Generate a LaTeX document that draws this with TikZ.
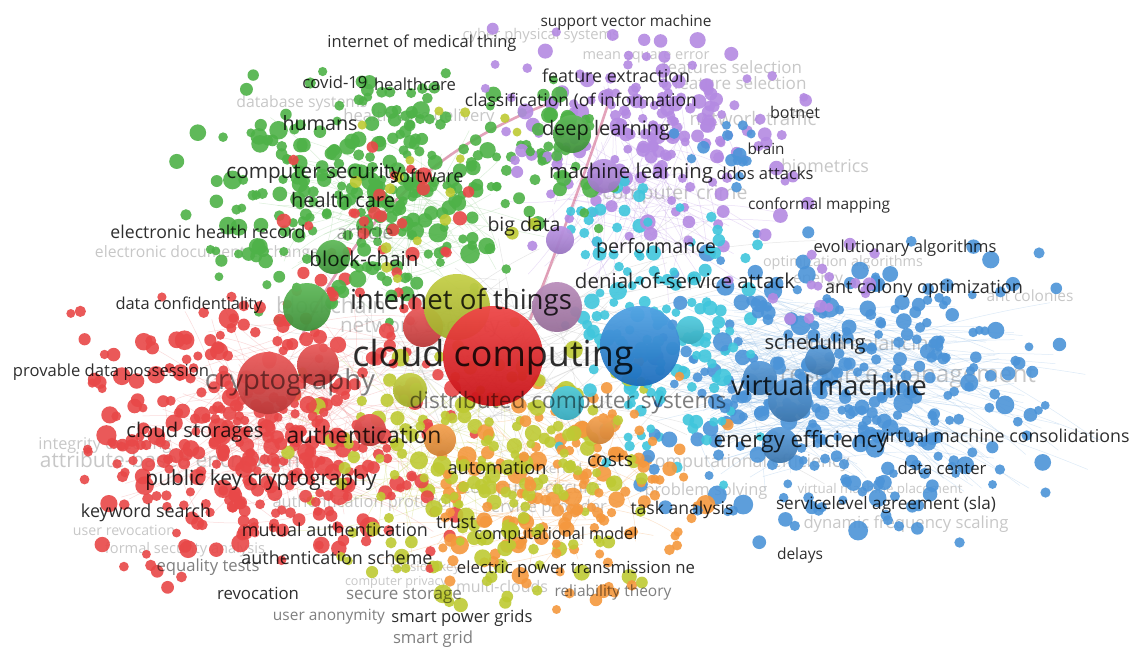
\documentclass[tikz,border=0pt]{standalone}
\usepackage{fontspec}
\setmainfont{Open Sans}
\usepackage{graphicx}
\definecolor{cred}{RGB}{232,72,72}
\definecolor{cgreen}{RGB}{78,178,72}
\definecolor{cpurple}{RGB}{180,138,226}
\definecolor{cblue}{RGB}{76,148,216}
\definecolor{ccyan}{RGB}{64,198,220}
\definecolor{cyellow}{RGB}{190,202,52}
\definecolor{corange}{RGB}{244,152,62}
\definecolor{cmauve}{RGB}{178,130,180}
\newcommand\scat[7]{\foreach \i in {1,...,#2}{%
  \pgfmathsetmacro\px{#3+#5*(rand+rand)/2}%
  \pgfmathsetmacro\py{#4+#6*(rand+rand)/2}%
  \pgfmathsetmacro\rr{4.4+#7*rnd*rnd}%
  \fill[#1,dot] (\px,\py) circle[radius=\rr];}}
\newcommand\edg[9]{\foreach \i in {1,...,#2}{%
  \pgfmathsetmacro\ax{#3+#5*(rand+rand)/2}%
  \pgfmathsetmacro\ay{#4+#6*(rand+rand)/2}%
  \pgfmathsetmacro\bx{#7+#9*(rand+rand)/2}%
  \pgfmathsetmacro\by{#8+0.6*#9*(rand+rand)/2}%
  \draw[#1,edgeline] (\ax,\ay) to[bend left=12] (\bx,\by);}}
\newcommand\lbl[6]{\node[#1] (#2) at (#3,#4) {\resizebox{#5pt}{!}{#6}};}
\tikzset{
  dot/.style={fill opacity=0.9},
  edgeline/.style={line width=0.5pt, draw opacity=0.28},
  lab/.style={inner sep=0pt, text=black, text opacity=0.82},
  midlab/.style={inner sep=0pt, text=black, text opacity=0.5},
  artlab/.style={inner sep=0pt, text=black, text opacity=0.33},
  faintlab/.style={inner sep=0pt, text=black, text opacity=0.22},
  bigball/.style={fill opacity=0.95},
  pinkcurve/.style={line width=2.6pt, draw=cred!55!cpurple, draw opacity=0.6},
}
\begin{document}
\begin{tikzpicture}[x=1pt,y=-1pt]
\useasboundingbox (0,0) rectangle (1137,648);
\fill[white] (0,0) rectangle (1137,648);
\pgfmathsetseed{4242}
% ---------- edges ----------
\edg{cred!70}{150}{290}{410}{170}{120}{300}{420}{200}
\edg{cblue!70}{170}{720}{380}{70}{110}{900}{400}{210}
\edg{cgreen!70}{70}{380}{210}{150}{100}{400}{240}{150}
\edg{cpurple}{70}{620}{160}{100}{90}{640}{230}{150}
\edg{gray!70}{100}{500}{360}{160}{110}{520}{360}{320}
\edg{corange}{60}{560}{470}{120}{90}{520}{480}{200}
\edg{cyellow}{50}{440}{460}{120}{100}{420}{450}{200}
\draw[pinkcurve] (300,340) .. controls (350,230) and (430,150) .. (545,105);
\draw[pinkcurve] (530,320) .. controls (560,240) and (590,160) .. (612,92);
% ---------- faint labels (behind the circles) ----------
\lbl{faintlab}{f1}{541}{36}{157}{cyber physical systems}
\lbl{faintlab}{f2}{646}{57}{127}{mean square error}
\lbl{faintlab}{f3}{732}{67}{140}{features selection}
\lbl{faintlab}{f4}{740}{83}{133}{feature selection}
\lbl{faintlab}{f5}{302}{103}{131}{database systems}
\lbl{faintlab}{f6}{419}{117}{151}{health care delivery}
\lbl{faintlab}{f7}{753}{118}{127}{network traffic}
\lbl{faintlab}{f8}{825}{166}{88}{biometrics}
\lbl{faintlab}{f9}{675}{195}{145}{computer crime}
\lbl{faintlab}{f10}{207}{253}{224}{electronic document exchange}
\lbl{faintlab}{f11}{843}{263}{160}{optimization algorithms}
\lbl{faintlab}{f12}{818}{281}{50}{energy}
\lbl{faintlab}{f13}{1030}{296}{87}{ant colonies}
\lbl{faintlab}{f14}{331}{305}{110}{blockchain}
\lbl{faintlab}{f15}{420}{327}{160}{network security}
\lbl{faintlab}{f16}{872}{345}{135}{load balancing}
\lbl{faintlab}{f17}{908}{377}{256}{resource management}
\lbl{faintlab}{f18}{105}{445}{133}{integrity checking}
\lbl{faintlab}{f19}{170}{462}{260}{attribute-based encryption}
\lbl{faintlab}{f20}{748}{463}{203}{computational efficiency}
\lbl{faintlab}{f21}{366}{503}{187}{authentication protocols}
\lbl{faintlab}{f22}{706}{491}{123}{problem solving}
\lbl{faintlab}{f23}{532}{489}{140}{computer circuits}
\lbl{faintlab}{f24}{545}{508}{124}{service provider}
\lbl{faintlab}{f25}{880}{490}{165}{virtual machine placement}
\lbl{faintlab}{f26}{906}{524}{205}{dynamic frequency scaling}
\lbl{faintlab}{f27}{562}{468}{40}{kernel}
\lbl{faintlab}{f28}{124}{530}{102}{user revocation}
\lbl{faintlab}{f29}{185}{550}{160}{formal security analysis}
\lbl{faintlab}{f30}{425}{568}{70}{session key}
\lbl{faintlab}{f31}{396}{582}{102}{computer privacy}
\lbl{faintlab}{f32}{502}{587}{92}{multi-clouds}
% ---------- circles, first pass ----------
\scat{cgreen}{150}{370}{195}{210}{150}{6}
\scat{cpurple}{95}{650}{140}{170}{120}{5}
\scat{cblue}{170}{850}{390}{230}{170}{6}
\scat{ccyan}{75}{665}{340}{110}{150}{5}
\scat{cred}{200}{265}{430}{215}{160}{6.5}
\scat{corange}{85}{570}{490}{160}{130}{5.5}
\scat{cyellow}{105}{480}{470}{200}{150}{6}
% ---------- circles, second pass ----------
\scat{cgreen}{130}{370}{190}{200}{140}{6}
\scat{cpurple}{80}{650}{140}{170}{120}{5}
\scat{cblue}{150}{850}{390}{230}{170}{6}
\scat{ccyan}{60}{665}{340}{110}{150}{5}
\scat{cred}{170}{265}{430}{215}{160}{6.5}
\scat{corange}{70}{570}{490}{160}{130}{5.5}
\scat{cyellow}{90}{480}{470}{200}{150}{6}
% ---------- mixing ----------
\scat{cred}{30}{390}{230}{150}{100}{4}
\scat{cpurple}{18}{800}{280}{90}{60}{3}
\scat{cyellow}{18}{420}{200}{150}{110}{3}
\scat{ccyan}{18}{610}{220}{60}{60}{3}
\scat{cgreen}{30}{565}{150}{70}{90}{5}
\scat{cblue}{14}{730}{150}{60}{50}{3}
% ---------- large circles ----------
\shade[top color=cgreen!90!white, bottom color=cgreen!80!black, bigball] (307,307) circle[radius=24];
\shade[top color=cgreen!90!white, bottom color=cgreen!80!black, bigball] (333,257) circle[radius=17];
\shade[top color=cgreen!90!white, bottom color=cgreen!80!black, bigball] (572,134) circle[radius=19];
\shade[top color=cpurple!90!white, bottom color=cpurple!85!black, bigball] (604,176) circle[radius=17];
\shade[top color=cpurple!90!white, bottom color=cpurple!85!black, bigball] (560,240) circle[radius=14];
\shade[top color=cred!90!white, bottom color=cred!80!black, bigball] (268,383) circle[radius=31];
\shade[top color=cred!90!white, bottom color=cred!80!black, bigball] (318,365) circle[radius=21];
\shade[top color=cred!90!white, bottom color=cred!80!black, bigball] (423,327) circle[radius=20];
\shade[top color=cred!90!white, bottom color=cred!80!black, bigball] (370,430) circle[radius=16];
\shade[top color=cyellow!90!white, bottom color=cyellow!85!black, bigball] (457,307) circle[radius=33];
\shade[top color=cyellow!90!white, bottom color=cyellow!85!black, bigball] (410,390) circle[radius=17];
\shade[top color=cmauve!90!white, bottom color=cmauve!85!black, bigball] (557,307) circle[radius=25];
\shade[top color=corange!90!white, bottom color=corange!85!black, bigball] (440,440) circle[radius=16];
\shade[top color=corange!90!white, bottom color=corange!85!black, bigball] (600,430) circle[radius=14];
\shade[top color=ccyan!90!white, bottom color=ccyan!85!black, bigball] (567,403) circle[radius=17];
\shade[top color=ccyan!90!white, bottom color=ccyan!85!black, bigball] (690,330) circle[radius=14];
\shade[top color=cblue!90!white, bottom color=cblue!80!black, bigball] (790,400) circle[radius=22];
\shade[top color=cblue!90!white, bottom color=cblue!80!black, bigball] (760,378) circle[radius=17];
\shade[top color=cblue!90!white, bottom color=cblue!80!black, bigball] (780,445) circle[radius=18];
\shade[top color=cblue!90!white, bottom color=cblue!80!black, bigball] (820,360) circle[radius=15];
\shade[top color={rgb,255:red,238;green,72;blue,72}, bottom color={rgb,255:red,200;green,18;blue,24}, bigball] (493,356) circle[radius=50];
\shade[top color={rgb,255:red,84;green,164;blue,228}, bottom color={rgb,255:red,28;green,108;blue,188}, bigball] (640,346) circle[radius=40];
% ---------- medium labels ----------
\lbl{midlab}{m1}{290}{382}{170}{cryptography}
\lbl{midlab}{m2}{568}{403}{317}{distributed computer systems}
\lbl{midlab}{m3}{208}{567}{103}{equality tests}
\lbl{midlab}{m4}{404}{596}{116}{secure storage}
\lbl{midlab}{m5}{613}{592}{117}{reliability theory}
\lbl{midlab}{m6}{329}{617}{112}{user anonymity}
\lbl{midlab}{m7}{433}{639}{80}{smart grid}
\lbl{artlab}{m8}{365}{232}{57}{article}
% ---------- dark labels ----------
\lbl{lab}{d1}{626}{22}{171}{support vector machine}
\lbl{lab}{d2}{422}{43}{189}{internet of medical thing}
\lbl{lab}{d3}{335}{82}{65}{covid-19}
\lbl{lab}{d4}{415}{84}{82}{healthcare}
\lbl{lab}{d5}{616}{76}{148}{feature extraction}
\lbl{lab}{d6}{581}{101}{232}{classification (of information}
\lbl{lab}{d7}{795}{112}{50}{botnet}
\lbl{lab}{d8}{320}{123}{75}{humans}
\lbl{lab}{d9}{606}{130}{128}{deep learning}
\lbl{lab}{d10}{766}{149}{37}{brain}
\lbl{lab}{d11}{631}{173}{164}{machine learning}
\lbl{lab}{d12}{765}{173}{97}{ddos attacks}
\lbl{lab}{d13}{314}{173}{175}{computer security}
\lbl{lab}{d14}{427}{176}{73}{software}
\lbl{lab}{d15}{343}{200}{104}{health care}
\lbl{lab}{d16}{819}{205}{142}{conformal mapping}
\lbl{lab}{d17}{208}{232}{195}{electronic health record}
\lbl{lab}{d18}{524}{226}{73}{big data}
\lbl{lab}{d19}{656}{248}{120}{performance}
\lbl{lab}{d20}{905}{248}{183}{evolutionary algorithms}
\lbl{lab}{d21}{364}{259}{109}{block-chain}
\lbl{lab}{d22}{685}{281}{220}{denial-of-service attack}
\lbl{lab}{d23}{924}{289}{198}{ant colony optimization}
\lbl{lab}{d24}{461}{302}{222}{internet of things}
\lbl{lab}{d25}{189}{305}{147}{data confidentiality}
\lbl{lab}{d26}{493}{357}{281}{cloud computing}
\lbl{lab}{d27}{815}{344}{101}{scheduling}
\lbl{lab}{d28}{111}{372}{196}{provable data possession}
\lbl{lab}{d29}{829}{385}{196}{virtual machine}
\lbl{lab}{d30}{195}{432}{137}{cloud storages}
\lbl{lab}{d31}{364}{435}{155}{authentication}
\lbl{lab}{d32}{1003}{436}{253}{virtual machine consolidations}
\lbl{lab}{d33}{801}{442}{175}{energy efficiency}
\lbl{lab}{d34}{610}{460}{46}{costs}
\lbl{lab}{d35}{497}{468}{99}{automation}
\lbl{lab}{d36}{942}{468}{89}{data center}
\lbl{lab}{d37}{261}{480}{231}{public key cryptography}
\lbl{lab}{d38}{886}{505}{220}{servicelevel agreement (sla)}
\lbl{lab}{d39}{682}{510}{103}{task analysis}
\lbl{lab}{d40}{146}{513}{130}{keyword search}
\lbl{lab}{d41}{456}{523}{40}{trust}
\lbl{lab}{d42}{335}{530}{186}{mutual authentication}
\lbl{lab}{d43}{556}{535}{163}{computational model}
\lbl{lab}{d44}{800}{555}{46}{delays}
\lbl{lab}{d45}{337}{558}{191}{authentication scheme}
\lbl{lab}{d46}{576}{569}{238}{electric power transmission ne}
\lbl{lab}{d47}{258}{593}{82}{revocation}
\lbl{lab}{d48}{462}{618}{141}{smart power grids}
\end{tikzpicture}
\end{document}
